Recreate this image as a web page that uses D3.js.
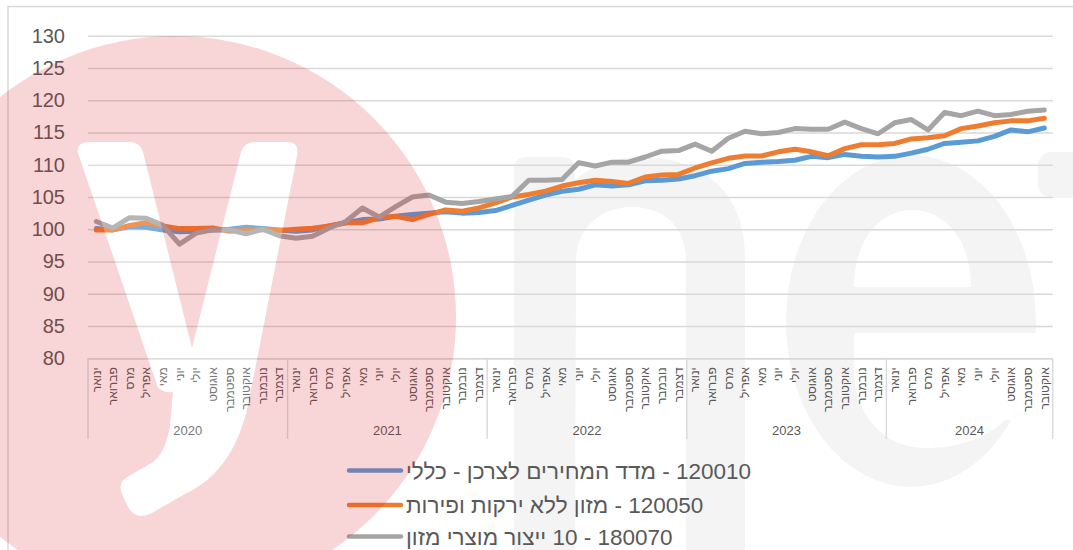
<!DOCTYPE html>
<html>
<head>
<meta charset="utf-8">
<script src="https://cdn.jsdelivr.net/npm/d3@7"></script>
<style>
  html, body { margin: 0; padding: 0; background: #ffffff; }
  svg { display: block; font-family: "Liberation Sans", Arial, sans-serif; }
</style>
</head>
<body>
<svg id="chart" width="1073" height="550"></svg>
<script>
// ---- data ----
const monthNames = ["ינואר","פברואר","מרס","אפריל","מאי","יוני","יולי","אוגוסט","ספטמבר","אוקטובר","נובמבר","דצמבר"];
const years = ["2020","2021","2022","2023","2024"];
const monthsPerYear = [12, 12, 12, 12, 10];
const yTicks = [80, 85, 90, 95, 100, 105, 110, 115, 120, 125, 130];

const seriesNames = [
  "120010 - מדד המחירים לצרכן - כללי",
  "120050 - מזון ללא ירקות ופירות",
  "180070 - 10 ייצור מוצרי מזון"
];
const seriesColors = ["#5B9BD5", "#ED7D31", "#A5A5A5"];

const cpiGeneral = [
  100.1, 99.9, 100.4, 100.3, 99.9, 99.6, 99.7, 99.9, 100.0, 100.3, 100.1, 99.9,
  99.7, 99.9, 100.5, 101.0, 101.5, 101.6, 102.0, 102.3, 102.5, 102.7, 102.5, 102.6,
  102.9, 103.7, 104.5, 105.3, 105.9, 106.2, 106.9, 106.7, 106.9, 107.5, 107.6, 107.8,
  108.3, 109.0, 109.4, 110.2, 110.4, 110.5, 110.7, 111.3, 111.1, 111.6, 111.3, 111.2,
  111.3, 111.8, 112.4, 113.3, 113.5, 113.7, 114.4, 115.4, 115.1, 115.7
];
const foodNoVeg = [
  99.9, 99.9, 100.6, 101.0, 100.5, 100.1, 100.1, 100.2, 99.7, 99.8, 99.95, 99.8,
  100.0, 100.15, 100.5, 101.0, 101.0, 101.8, 102.0, 101.5, 102.3, 103.0, 102.8, 103.3,
  104.1, 105.0, 105.4, 105.9, 106.7, 107.2, 107.6, 107.4, 107.1, 108.1, 108.4, 108.5,
  109.5, 110.3, 111.0, 111.35, 111.35, 112.0, 112.4, 112.0, 111.4, 112.5, 113.1, 113.1,
  113.3, 114.0, 114.2, 114.5, 115.6, 116.0, 116.5, 116.8, 116.8, 117.2
];
const foodManufacturing = [
  101.2, 100.2, 101.8, 101.7, 100.6, 97.7, 99.4, 99.9, 99.9, 99.3, 100.0, 99.0,
  98.6, 98.9, 100.2, 101.2, 103.3, 101.9, 103.5, 105.0, 105.3, 104.2, 104.0, 104.3,
  104.7, 105.1, 107.6, 107.6, 107.7, 110.3, 109.8, 110.4, 110.4, 111.2, 112.1, 112.2,
  113.2, 112.1, 114.1, 115.2, 114.8, 115.0, 115.6, 115.5, 115.5, 116.6, 115.6, 114.8,
  116.5, 117.0, 115.4, 118.1, 117.6, 118.3, 117.6, 117.8, 118.3, 118.5
];
const seriesValues = [cpiGeneral, foodNoVeg, foodManufacturing];

// ---- layout ----
const svg = d3.select("#chart");
const W = 1073, H = 550;
const plotLeft = 88, plotRight = 1052.7, plotTop = 35.7, plotBottom = 358.3;
const n = cpiGeneral.length;
const textColor = "#595959";
const gridColor = "#d9d9d9";

const x = d3.scaleBand().domain(d3.range(n)).range([plotLeft, plotRight]).paddingInner(0).paddingOuter(0);
const cx = i => x(i) + x.bandwidth() / 2;
const y = d3.scaleLinear().domain([80, 130]).range([plotBottom, plotTop]);

svg.append("rect").attr("width", W).attr("height", H).attr("fill", "#ffffff");

// ---- background watermark letters "net" (very light grey) ----
const wm = svg.append("g").attr("class", "watermark-net");
wm.append("path").attr("fill", "#f4f4f4")
  .attr("d", "M514,170 Q514,157 527,157 L562,157 Q575,157 575,170 L575,180 C595,163 618,157 640,157 C705,157 745,195 745,255 L745,560 L686,560 L686,260 C686,228 665,207 632,207 C600,207 578,228 576,258 L575,560 L514,560 Z");
wm.append("ellipse").attr("cx", 911).attr("cy", 321).attr("rx", 125).attr("ry", 166).attr("fill", "#f4f4f4");
wm.append("path").attr("fill", "#ffffff")
  .attr("d", "M854,287 C854,240 880,210 912,210 C945,210 971,240 971,287 Z");
wm.append("path").attr("fill", "#ffffff")
  .attr("d", "M854,333 L1040,333 L1040,420 L1005,420 C985,440 955,448 925,448 C880,448 854,410 854,370 Z");
wm.append("rect").attr("x", 1038).attr("y", 152).attr("width", 60).attr("height", 46).attr("rx", 14).attr("fill", "#f4f4f4");

// ---- outer chart border ----
svg.append("path").attr("d", `M8,${H + 10} L8,6.5 L${W + 10},6.5`)
  .attr("fill", "none").attr("stroke", gridColor).attr("stroke-width", 1.5);

// ---- gridlines ----
const grid = svg.append("g").attr("transform", `translate(${plotLeft},0)`)
  .call(d3.axisLeft(y).tickValues(yTicks).tickSize(-(plotRight - plotLeft)).tickFormat(""));
grid.select(".domain").remove();
grid.selectAll("line").attr("stroke", gridColor).attr("stroke-width", 1.4);

// ---- y axis labels ----
const yAxis = svg.append("g").attr("transform", `translate(${plotLeft},0)`)
  .call(d3.axisLeft(y).tickValues(yTicks).tickSize(0).tickPadding(23));
yAxis.select(".domain").remove();
yAxis.selectAll("text").attr("fill", textColor).attr("font-size", "20px")
  .attr("font-family", "'Liberation Sans', Arial, sans-serif");

// ---- x axis: month labels ----
const xAxis = svg.append("g").attr("transform", `translate(0,${plotBottom})`)
  .call(d3.axisBottom(x).tickSize(0).tickFormat(i => monthNames[i % 12]));
xAxis.select(".domain").attr("stroke", gridColor).attr("stroke-width", 1.4);
xAxis.selectAll("text")
  .attr("transform", "rotate(-90)")
  .attr("y", 0).attr("x", -9).attr("dy", "0.35em")
  .attr("text-anchor", "end")
  .attr("fill", textColor).attr("font-size", "12px")
  .attr("font-family", "'Liberation Sans', Arial, sans-serif");

// ---- x axis: year groups ----
let start = 0;
const groupBounds = [];
years.forEach((yr, k) => {
  groupBounds.push({ yr, s: start, e: start + monthsPerYear[k] - 1 });
  start += monthsPerYear[k];
});
const sepY2 = 439;
groupBounds.forEach(g => {
  svg.append("line").attr("x1", x(g.s)).attr("x2", x(g.s))
    .attr("y1", plotBottom).attr("y2", sepY2).attr("stroke", gridColor).attr("stroke-width", 1.4);
  svg.append("text").attr("x", (x(g.s) + x(g.e) + x.bandwidth()) / 2).attr("y", 435)
    .attr("text-anchor", "middle").attr("fill", textColor).attr("font-size", "13px")
    .text(g.yr);
});
svg.append("line").attr("x1", x(n - 1) + x.bandwidth()).attr("x2", x(n - 1) + x.bandwidth())
  .attr("y1", plotBottom).attr("y2", sepY2).attr("stroke", gridColor).attr("stroke-width", 1.4);

// ---- series lines ----
const line = d3.line().x((d, i) => cx(i)).y(d => y(d));
seriesValues.forEach((vals, k) => {
  svg.append("path").datum(vals).attr("d", line)
    .attr("fill", "none").attr("stroke", seriesColors[k]).attr("stroke-width", 5)
    .attr("stroke-linejoin", "round").attr("stroke-linecap", "round");
});

// ---- legend ----
const legendRows = [470.5, 505, 536.5];
const legend = svg.append("g");
seriesNames.forEach((name, k) => {
  legend.append("line").attr("x1", 349).attr("x2", 401).attr("y1", legendRows[k]).attr("y2", legendRows[k])
    .attr("stroke", seriesColors[k]).attr("stroke-width", 4.5).attr("stroke-linecap", "round");
  legend.append("text").attr("x", 406).attr("y", legendRows[k]).attr("dy", "0.36em")
    .attr("direction", "rtl").attr("text-anchor", "end")
    .attr("fill", textColor).attr("font-size", "22.5px")
    .text(name);
});

// ---- ynet logo watermark overlay ----
const logo = svg.append("g").attr("opacity", 0.18).attr("pointer-events", "none");
logo.append("circle").attr("cx", 175).attr("cy", 317).attr("r", 281).attr("fill", "#db1f26");
logo.append("path").attr("fill", "#ffffff")
  .attr("d", "M78,153 Q76,142 89,142 L130,142 Q140,142 143,152 L192,348 L241,152 Q244,142 255,142 L287,142 Q300,142 297,156 L250,395 Q237,470 185,494 L152,513 Q136,521 128,507 L122,494 Q117,482 129,476 L153,462 Q166,452 170,425 L173,392 Q165,393 158,388 Z");
</script>
</body>
</html>
